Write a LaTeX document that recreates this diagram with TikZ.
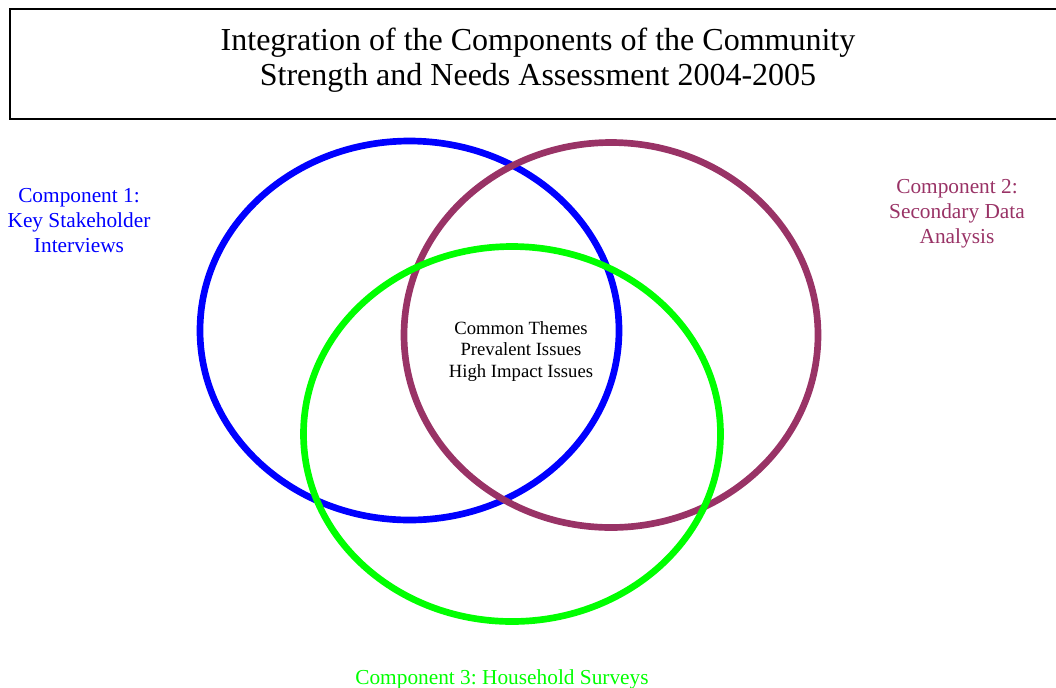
\documentclass[tikz,border=0pt]{standalone}
\usepackage{fontspec}
\setmainfont{Liberation Serif}
\frenchspacing
\definecolor{cblue}{RGB}{0,0,255}
\definecolor{cpurple}{RGB}{153,51,102}
\definecolor{cgreen}{RGB}{0,255,0}
\tikzset{
  ring/.style={line width=5pt},
  lbl/.style={align=center, font=\fontsize{16}{18.75}\selectfont, inner sep=0pt},
  ctr/.style={align=center, font=\fontsize{14}{16.2}\selectfont, inner sep=0pt},
  titlebox/.style={draw=black, line width=1.3pt}
}
\begin{document}
\begin{tikzpicture}[x=0.75pt,y=-0.75pt]
\clip (0,0) rectangle (1056,687);
\useasboundingbox (0,0) rectangle (1056,687);
% title
\draw[titlebox] (10,9) rectangle (1070,119);
\node[align=center, inner sep=0pt, font=\fontsize{24}{26.25}\selectfont] (title) at (538,60.5)
  {Integration of the Components of the Community\\Strength and Needs Assessment 2004-2005};
% ellipses
\coordinate (cb) at (409.5,330.5);
\coordinate (cp) at (611,335);
\coordinate (cg) at (512,434);
\draw[ring, cblue] (cb) ellipse [x radius=209.5, y radius=189.5];
\draw[ring, cpurple] (cp) ellipse [x radius=207, y radius=192.5];
\draw[ring, cgreen] (cg) ellipse [x radius=208.5, y radius=187.5];
% labels
\node[lbl, text=cblue] (c1) at (79,221) {Component 1:\\Key Stakeholder\\Interviews};
\node[lbl, text=cpurple] (c2) at (957,213.5) {Component 2:\\Secondary Data\\Analysis};
\node[lbl, text=cgreen] (c3) at (502,679) {Component 3: Household Surveys};
\node[ctr] (common) at (521,351.5) {Common Themes\\Prevalent Issues\\High Impact Issues};
\end{tikzpicture}
\end{document}
